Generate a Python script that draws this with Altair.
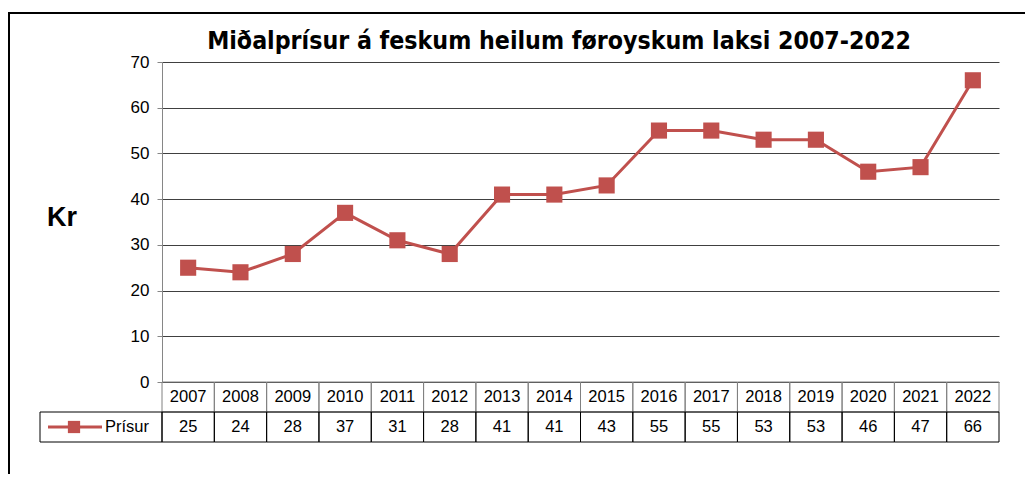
import altair as alt
import pandas as pd

years = ["2007", "2008", "2009", "2010", "2011", "2012", "2013", "2014",
         "2015", "2016", "2017", "2018", "2019", "2020", "2021", "2022"]
values = [25, 24, 28, 37, 31, 28, 41, 41, 43, 55, 55, 53, 53, 46, 47, 66]
series_name = "Prísur"
title_text = "Miðalprísur á feskum heilum føroyskum laksi 2007-2022"
y_label = "Kr"
y_ticks = [0, 10, 20, 30, 40, 50, 60, 70]

RED = "#C0504D"
W, H = 837, 320

df = pd.DataFrame({"year": years, "value": values})
one = pd.DataFrame({"k": [0]})

xenc = alt.X("year:O", sort=years,
             scale=alt.Scale(domain=years, paddingInner=0, paddingOuter=0),
             axis=None)
yscale = alt.Scale(domain=[0, 70], nice=False)

base = alt.Chart(df)

header_cells = base.mark_rect(fillOpacity=0, stroke="#808080", strokeWidth=1).encode(
    x=xenc, y=alt.value(H), y2=alt.value(H + 30))
value_cells = base.mark_rect(fillOpacity=0, stroke="#000000", strokeWidth=1).encode(
    x=xenc, y=alt.value(H + 30), y2=alt.value(H + 60))
year_text = base.mark_text(font="Liberation Sans", fontSize=16.5, color="black",
                           baseline="middle").encode(
    x=xenc, y=alt.value(H + 15), text="year:N")
value_text = base.mark_text(font="Liberation Sans", fontSize=16.5, color="black",
                            baseline="middle").encode(
    x=xenc, y=alt.value(H + 45), text="value:Q")

legend_cell = alt.Chart(one).mark_rect(fillOpacity=0, stroke="#000000", strokeWidth=1).encode(
    x=alt.value(-122), x2=alt.value(0), y=alt.value(H + 30), y2=alt.value(H + 60))
legend_line = alt.Chart(one).mark_rule(color=RED, strokeWidth=3).encode(
    x=alt.value(-114), x2=alt.value(-60), y=alt.value(H + 45))
legend_pt = alt.Chart(one).mark_point(shape="square", filled=True, color=RED,
                                      opacity=1, size=150).encode(
    x=alt.value(-88), y=alt.value(H + 45))
legend_txt = alt.Chart(one).mark_text(font="Liberation Sans", fontSize=16.5, color="black",
                                      align="left", baseline="middle").encode(
    x=alt.value(-57), y=alt.value(H + 45), text=alt.value(series_name))

line = base.mark_line(color=RED, strokeWidth=3).encode(
    x=xenc,
    y=alt.Y("value:Q", scale=yscale,
            axis=alt.Axis(values=y_ticks, grid=True, gridColor="#404040", gridWidth=1,
                          domainColor="#868686", tickColor="#868686", tickSize=5,
                          labelFont="Liberation Sans", labelFontSize=17,
                          labelColor="black", labelPadding=8, title=None)))
points = base.mark_point(shape="square", filled=True, color=RED, opacity=1,
                         size=260).encode(x=xenc, y=alt.Y("value:Q", scale=yscale))

title = alt.Chart(one).mark_text(font="DejaVu Sans Condensed", fontWeight="bold",
                                 fontSize=24.7, color="black", baseline="middle").encode(
    x=alt.value(397), y=alt.value(-20), text=alt.value(title_text))
kr = alt.Chart(one).mark_text(font="Liberation Sans", fontWeight="bold", fontSize=27,
                              color="black", baseline="middle").encode(
    x=alt.value(-100), y=alt.value(156), text=alt.value(y_label))

border_left = alt.Chart(one).mark_rule(color="black", strokeWidth=2).encode(
    x=alt.value(-153), y=alt.value(-49), y2=alt.value(420))
border_top = alt.Chart(one).mark_rule(color="black", strokeWidth=2).encode(
    x=alt.value(-154), x2=alt.value(880), y=alt.value(-49))

chart = alt.layer(
    header_cells, value_cells, year_text, value_text,
    legend_cell, legend_line, legend_pt, legend_txt,
    line, points, title, kr, border_left, border_top
).properties(
    width=W, height=H,
    autosize=alt.AutoSizeParams(type="none"),
    padding={"left": 154, "top": 54, "right": 26, "bottom": 92},
).configure_view(strokeWidth=0)

chart.save("out.html", embed_options={"renderer": "svg", "actions": False})
